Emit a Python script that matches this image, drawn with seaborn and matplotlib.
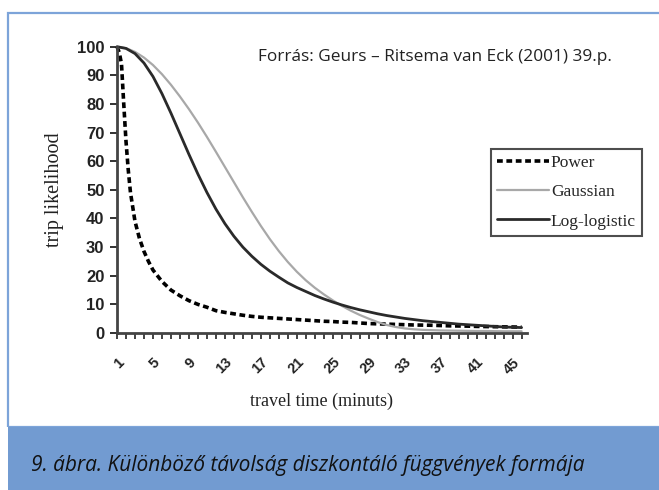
import matplotlib
matplotlib.use("Agg")
import matplotlib.pyplot as plt
import matplotlib.patches as mpatches
import seaborn as sns

sns.set_style("ticks")
plt.rcParams['font.family'] = ['Liberation Sans', 'DejaVu Sans']

# travel time categories (minutes)
minutes = list(range(1, 47))

gaussian = [100, 99.5, 98.2, 96.2, 93.6, 90.4, 86.7, 82.6, 78.2, 73.5,
            68.5, 63.3, 58, 52.7, 47.4, 42.3, 37.4, 32.8, 28.6, 24.8,
            21.4, 18.4, 15.8, 13.5, 11.4, 9.5, 7.8, 6.3, 5.0, 3.8,
            2.8, 2.1, 1.6, 1.3, 1.1, 1.0, 0.9, 0.85, 0.8, 0.75,
            0.7, 0.7, 0.65, 0.6, 0.6, 0.6]

log_logistic = [100, 99.4, 97.6, 94.3, 89.6, 83.6, 76.8, 69.6, 62.4, 55.5,
                49.1, 43.3, 38.2, 33.8, 30.0, 26.8, 24.0, 21.6, 19.5, 17.5,
                15.9, 14.5, 13.1, 11.9, 10.8, 9.8, 8.9, 8.1, 7.4, 6.7,
                6.1, 5.6, 5.1, 4.7, 4.3, 4.0, 3.7, 3.4, 3.1, 2.9,
                2.7, 2.5, 2.3, 2.1, 2.0, 1.9]

# power curve read a bit finer near the start, where it drops steeply
power_minutes = [1, 1.25, 1.5, 1.75, 2, 2.25, 2.5, 3, 3.5, 4, 4.5] + list(range(5, 47))
power = [100, 98, 94, 80, 67, 57, 49, 39, 33, 28.5, 25,
         22, 18, 15, 13, 11.3, 10, 9, 7.8, 7.2, 6.7,
         6.2, 5.8, 5.5, 5.3, 5.1, 4.9, 4.7, 4.5, 4.3, 4.1,
         4.0, 3.8, 3.7, 3.5, 3.3, 3.2, 3.1, 3.0, 2.9, 2.8,
         2.75, 2.7, 2.6, 2.5, 2.45, 2.4, 2.3, 2.25, 2.2, 2.15,
         2.1, 2.05]

x_labels = [str(m) if (m - 1) % 4 == 0 else '' for m in minutes]

W, H = 659, 490
fig = plt.figure(figsize=(W / 100, H / 100), dpi=100)

# light blue frame and caption band
fig.patches.append(mpatches.Rectangle((8 / W, 1 - 427 / H), 700 / W, (427 - 13) / H,
                                      transform=fig.transFigure, fill=False,
                                      edgecolor='#7da4d9', lw=1.6))
fig.patches.append(mpatches.Rectangle((8 / W, 0), 1, (H - 427) / H,
                                      transform=fig.transFigure,
                                      facecolor='#729bd1', edgecolor='none'))

ax = fig.add_axes([117 / W, 1 - 333 / H, 410 / W, 286.3 / H])
ax.set_facecolor('white')

sns.lineplot(x=power_minutes, y=power, ax=ax, color='black', lw=2.6,
             linestyle=(0, (1.6, 1.0)), label='Power', clip_on=False)
sns.lineplot(x=minutes, y=gaussian, ax=ax, color='#a8a8a8', lw=1.6,
             label='Gaussian', clip_on=False)
sns.lineplot(x=minutes, y=log_logistic, ax=ax, color='#2a2a2a', lw=2.0,
             label='Log-logistic', clip_on=False)

ax.set_xlim(1, 46.6)
ax.set_ylim(0, 100)
sns.despine(ax=ax)
for side in ['left', 'bottom']:
    ax.spines[side].set_linewidth(2)
    ax.spines[side].set_color('#444444')

ax.set_yticks(range(0, 101, 10))
ax.set_xticks(minutes)
ax.set_xticklabels(x_labels)
ax.tick_params(axis='y', length=5, width=1.3, pad=4, labelsize=12, colors='#222222')
ax.tick_params(axis='x', length=4, width=1.2, pad=12, labelsize=10.5,
               labelrotation=45, colors='#222222')
plt.setp(ax.get_xticklabels(), ha='right', va='top', rotation_mode='anchor',
         fontweight='bold')
plt.setp(ax.get_yticklabels(), fontweight='bold')

ax.set_xlabel('travel time (minuts)', family='Liberation Serif', fontsize=13,
              color='#222222')
ax.xaxis.set_label_coords(0.5, -0.21)
ax.set_ylabel('trip likelihood', family='Liberation Serif', fontsize=14.5,
              color='#222222')
ax.yaxis.set_label_coords(-0.13, 0.5)

leg = ax.legend(loc='upper left', bbox_to_anchor=(491 / W, 1 - 149 / H),
                bbox_transform=fig.transFigure, borderaxespad=0,
                prop={'family': 'Liberation Serif', 'size': 12.5},
                frameon=True, fancybox=False, edgecolor='#222222',
                handlelength=3.0, handletextpad=0.1, borderpad=0.35,
                labelspacing=0.75)
leg.get_frame().set_linewidth(1.5)

fig.text(258 / W, 1 - 57 / H, 'Forrás: Geurs – Ritsema van Eck (2001) 39.p.',
         family=['Open Sans', 'DejaVu Sans'], fontsize=12.4, va='center', color='#222222')

fig.text(31 / W, 1 - 465 / H, '9. ábra. Különböző távolság diszkontáló függvények formája',
         family=['Open Sans', 'DejaVu Sans'], style='italic', fontsize=15,
         va='center', color='#111111')

fig.savefig('out.png', dpi=100)
